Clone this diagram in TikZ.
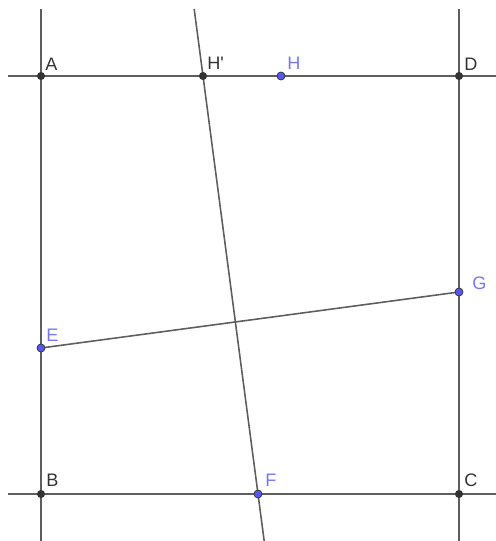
\documentclass[tikz,border=0pt]{standalone}
\usepackage{fontspec}
\setmainfont{Liberation Sans}
\usetikzlibrary{calc,positioning}
\definecolor{ggline}{HTML}{5E5E5E}
\definecolor{ggpt}{HTML}{333333}
\definecolor{ggfree}{HTML}{5656F0}
\definecolor{gglabel}{HTML}{7777F2}
\tikzset{
  gline/.style={draw=ggline,line width=0.9pt},
  lbl/.style={anchor=south west,inner sep=0pt,font=\fontsize{10.3}{12}\selectfont,text=ggpt},
  flbl/.style={lbl,text=gglabel}
}
\begin{document}
\begin{tikzpicture}[x=0.02cm,y=-0.02cm]
  \useasboundingbox (0,0) rectangle (496,541);

  % square corners and points
  \coordinate (A) at (41,76);
  \coordinate (D) at (459,76);
  \coordinate (B) at (41,494);
  \coordinate (C) at (459,494);
  \coordinate (Hp) at (203,76);
  \coordinate (H) at (281,76);
  \coordinate (E) at (41,348);
  \coordinate (G) at (459,292);
  \coordinate (F) at (258,494);

  % free ends of the lines
  \coordinate (ADw) at (8,76);
  \coordinate (ADe) at (496,76);
  \coordinate (BCw) at (8,494);
  \coordinate (BCe) at (496,494);
  \coordinate (ABn) at (41,9);
  \coordinate (ABs) at (41,541);
  \coordinate (DCn) at (459,9);
  \coordinate (DCs) at (459,541);
  \coordinate (HFn) at ($(Hp)!-0.1603!(F)$);
  \coordinate (HFs) at ($(F)!-0.1124!(Hp)$);

  \draw[gline] (ADw) -- (ADe);
  \draw[gline] (BCw) -- (BCe);
  \draw[gline] (ABn) -- (ABs);
  \draw[gline] (DCn) -- (DCs);
  \draw[gline] (HFn) -- (HFs);
  \draw[gline] (E) -- (G);

  % dependent points
  \fill[ggpt] (A) circle (2.3pt) node[lbl,shift={(4,-5)}] (lA) {A};
  \fill[ggpt] (D) circle (2.3pt) node[lbl,shift={(5,-5)}] (lD) {D};
  \fill[ggpt] (B) circle (2.3pt) node[lbl,shift={(5,-7)}] (lB) {B};
  \fill[ggpt] (C) circle (2.3pt) node[lbl,shift={(5,-7)}] (lC) {C};
  \fill[ggpt] (Hp) circle (2.3pt) node[lbl,shift={(4,-6)}] (lHp) {H\textquotesingle};

  % free points
  \filldraw[fill=ggfree,draw=ggpt,line width=0.4pt] (H) circle (2.3pt) node[flbl,shift={(6,-6)}] (lH) {H};
  \filldraw[fill=ggfree,draw=ggpt,line width=0.4pt] (E) circle (2.3pt) node[flbl,shift={(5,-6)}] (lE) {E};
  \filldraw[fill=ggfree,draw=ggpt,line width=0.4pt] (F) circle (2.3pt) node[flbl,shift={(7,-7)}] (lF) {F};
  \filldraw[fill=ggfree,draw=ggpt,line width=0.4pt] (G) circle (2.3pt) node[flbl,shift={(13,-2)}] (lG) {G};
\end{tikzpicture}
\end{document}
